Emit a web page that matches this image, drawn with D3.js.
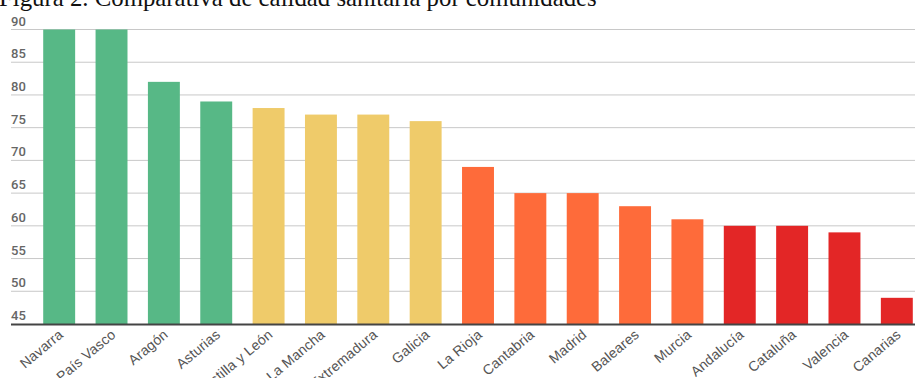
<!DOCTYPE html>
<html>
<head>
<meta charset="utf-8">
<script src="https://cdn.jsdelivr.net/npm/d3@7"></script>
<style>
  body { margin: 0; background: #fff; overflow: hidden; }
</style>
</head>
<body>
<script>
var regions = ['Navarra', 'País Vasco', 'Aragón', 'Asturias', 'Castilla y León', 'Castilla-La Mancha',
  'Extremadura', 'Galicia', 'La Rioja', 'Cantabria', 'Madrid', 'Baleares', 'Murcia',
  'Andalucía', 'Cataluña', 'Valencia', 'Canarias'];
var scores = [90, 90, 82, 79, 78, 77, 77, 76, 69, 65, 65, 63, 61, 60, 60, 59, 49];
var groups = ['green', 'green', 'green', 'green', 'yellow', 'yellow', 'yellow', 'yellow',
  'orange', 'orange', 'orange', 'orange', 'orange', 'red', 'red', 'red', 'red'];
var yTicks = [45, 50, 55, 60, 65, 70, 75, 80, 85, 90];

var colors = { green: '#57b886', yellow: '#efcb6a', orange: '#fe6b3a', red: '#e32626' };

var svg = d3.select('body').append('svg')
  .attr('width', 915)
  .attr('height', 378);

svg.append('text')
  .attr('x', -1)
  .attr('y', 6)
  .attr('font-family', 'Liberation Serif, serif')
  .attr('font-size', '24.8px')
  .attr('fill', '#111')
  .text('Figura 2. Comparativa de calidad sanitaria por comunidades');

var x = d3.scaleBand()
  .domain(regions)
  .range([33, 923])
  .paddingInner(0.39)
  .paddingOuter(0.195);

var y = d3.scaleLinear()
  .domain([45, 90])
  .range([324, 29.5]);

// grid lines + labels
var grid = svg.append('g');
grid.selectAll('line').data(yTicks.slice(1))
  .enter()
  .append('line')
  .attr('x1', 11)
  .attr('x2', 915)
  .attr('y1', function(d) {return y(d)})
  .attr('y2', function(d) {return y(d)})
  .attr('stroke', '#c8c8c8')
  .attr('stroke-width', 1);

grid.selectAll('text').data(yTicks)
  .enter()
  .append('text')
  .attr('x', 11)
  .attr('y', function(d) {return y(d) - 4})
  .attr('font-family', 'Roboto, sans-serif')
  .attr('font-size', '13px')
  .attr('font-weight', 500)
  .attr('fill', '#666')
  .text(function(d) {return d});

svg.selectAll('rect.bar').data(scores)
  .enter()
  .append('rect')
  .attr('class', 'bar')
  .attr('x', function(d, i) {return x(regions[i])})
  .attr('width', x.bandwidth())
  .attr('y', function(d) {return y(d)})
  .attr('height', function(d) {return y(45) - y(d)})
  .attr('fill', function(d, i) {return colors[groups[i]]});

svg.append('line')
  .attr('x1', 11)
  .attr('x2', 915)
  .attr('y1', 324.5)
  .attr('y2', 324.5)
  .attr('stroke', '#444')
  .attr('stroke-width', 2);

svg.selectAll('text.lab').data(regions)
  .enter()
  .append('text')
  .attr('class', 'lab')
  .attr('text-anchor', 'end')
  .attr('font-family', 'Liberation Sans, Arial, sans-serif')
  .attr('font-size', '14px')
  .attr('letter-spacing', '0.2px')
  .attr('fill', '#555')
  .attr('transform', function(d) {
    return 'translate(' + (x(d) + x.bandwidth() / 2 + 5) + ',336) rotate(-40)';
  })
  .text(function(d) {return d});
</script>
</body>
</html>
